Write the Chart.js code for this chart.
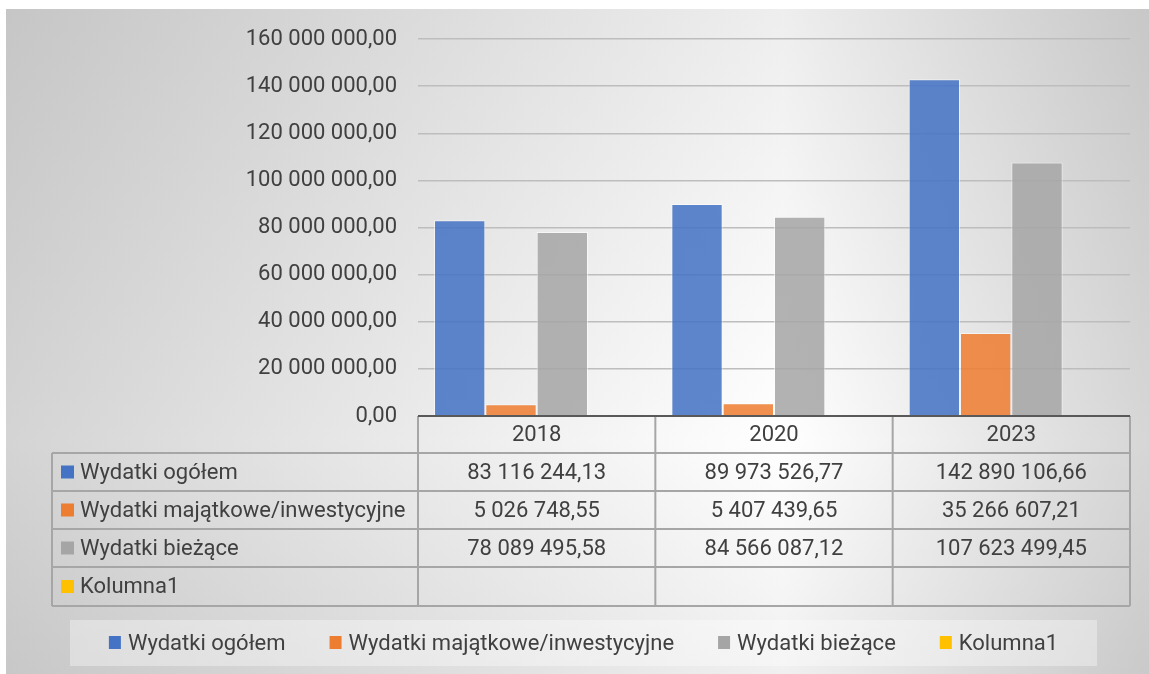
<!DOCTYPE html>
<html>
<head>
<meta charset="utf-8">
<script src="https://cdn.jsdelivr.net/npm/chart.js@4.4.1/dist/chart.umd.min.js"></script>
<style>
  body { margin: 0; background: #fff; }
  canvas { display: block; }
</style>
</head>
<body>
<canvas id="chart" width="1149" height="674"></canvas>
<script>
// dane z wykresu
const lata = ['2018', '2020', '2023'];
const seriaNazwy = ['Wydatki ogółem', 'Wydatki majątkowe/inwestycyjne', 'Wydatki bieżące', 'Kolumna1'];
const wydatkiOgolem = [83116244.13, 89973526.77, 142890106.66];
const wydatkiMajatkowe = [5026748.55, 5407439.65, 35266607.21];
const wydatkiBiezace = [78089495.58, 84566087.12, 107623499.45];
const kolumna1 = [null, null, null];
const kolory = ['#4472C4', '#ED7D31', '#A5A5A5', '#FFC000'];
const koloryBar = ['rgba(68,114,196,0.86)', 'rgba(237,125,49,0.86)', 'rgba(165,165,165,0.86)', 'rgba(255,192,0,0.86)'];

const FONT = '22px Roboto';
const TXT = '#404040';

function fmt(v) {
  const [i, d] = v.toFixed(2).split('.');
  return i.replace(/\B(?=(\d{3})+(?!\d))/g, ' ') + ',' + d;
}

const tlo = {
  id: 'tlo',
  beforeDraw(chart) {
    const ctx = chart.ctx;
    ctx.save();
    ctx.fillStyle = '#fff';
    ctx.fillRect(0, 0, chart.width, chart.height);
    const x0 = 6, y0 = 9, w = chart.width - x0, h = chart.height - y0;
    const gh = ctx.createLinearGradient(x0, 0, chart.width, 0);
    gh.addColorStop(0, '#d4d4d4');
    gh.addColorStop(0.68, '#ffffff');
    gh.addColorStop(1, '#d6d6d6');
    ctx.fillStyle = gh;
    ctx.fillRect(x0, y0, w, h);
    ctx.globalCompositeOperation = 'multiply';
    const gv = ctx.createLinearGradient(0, y0, 0, chart.height);
    gv.addColorStop(0, '#eeeeee');
    gv.addColorStop(0.65, '#ffffff');
    gv.addColorStop(1, '#f0f0f0');
    ctx.fillStyle = gv;
    ctx.fillRect(x0, y0, w, h);
    ctx.restore();
  }
};

const tabela = {
  id: 'tabela',
  afterDraw(chart) {
    const ctx = chart.ctx;
    const a = chart.chartArea;
    const xs = chart.scales.x;
    const kol = (a.right - a.left) / lata.length;
    const rzedy = [416, 453, 491, 529, 567, 606];
    const wartosci = [wydatkiOgolem, wydatkiMajatkowe, wydatkiBiezace, kolumna1];
    ctx.save();

    // linie tabeli
    ctx.strokeStyle = '#a6a6a6';
    ctx.lineWidth = 2;
    ctx.beginPath();
    for (let i = 0; i <= lata.length; i++) {
      const x = a.left + i * kol;
      ctx.moveTo(x, a.bottom);
      ctx.lineTo(x, rzedy[5]);
    }
    ctx.moveTo(52, rzedy[1]);
    ctx.lineTo(52, rzedy[5]);
    for (let r = 1; r < rzedy.length; r++) {
      ctx.moveTo(52, rzedy[r]);
      ctx.lineTo(a.right, rzedy[r]);
    }
    ctx.stroke();

    // os X
    ctx.strokeStyle = '#595959';
    ctx.lineWidth = 2;
    ctx.beginPath();
    ctx.moveTo(a.left, a.bottom);
    ctx.lineTo(a.right, a.bottom);
    ctx.stroke();

    ctx.font = FONT;
    ctx.fillStyle = TXT;
    ctx.textBaseline = 'middle';
    ctx.textAlign = 'center';
    lata.forEach((l, i) => {
      ctx.fillText(l, xs.getPixelForValue(i), (rzedy[0] + rzedy[1]) / 2 + 1);
    });
    seriaNazwy.forEach((n, s) => {
      const yc = (rzedy[s + 1] + rzedy[s + 2]) / 2;
      ctx.fillStyle = kolory[s];
      ctx.fillRect(61, yc - 6.5, 13, 13);
      ctx.fillStyle = TXT;
      ctx.textAlign = 'left';
      ctx.fillText(n, 80, yc + 1);
      ctx.textAlign = 'center';
      wartosci[s].forEach((v, i) => {
        if (v != null) ctx.fillText(fmt(v), xs.getPixelForValue(i), yc + 1);
      });
    });

    // legenda
    const lx = 70, ly = 620, lw = 1027, lh = 46;
    ctx.fillStyle = 'rgba(255,255,255,0.35)';
    ctx.fillRect(lx, ly, lw, lh);
    const gap = 44, sq = 12, tx = 19;
    const szer = seriaNazwy.map(n => ctx.measureText(n).width);
    let total = szer.reduce((p, c) => p + c + tx, 0) + gap * (seriaNazwy.length - 1);
    let x = lx + (lw - total) / 2;
    const yc = ly + lh / 2;
    ctx.textAlign = 'left';
    seriaNazwy.forEach((n, s) => {
      ctx.fillStyle = kolory[s];
      ctx.fillRect(x, yc - 7, sq, 13);
      ctx.fillStyle = TXT;
      ctx.fillText(n, x + tx, yc + 1);
      x += tx + szer[s] + gap;
    });
    ctx.restore();
  }
};

const ctx = document.getElementById('chart').getContext('2d');
Chart.defaults.font.family = 'Roboto';
new Chart(ctx, {
  type: 'bar',
  data: {
    labels: lata,
    datasets: [wydatkiOgolem, wydatkiMajatkowe, wydatkiBiezace, kolumna1].map((d, i) => ({
      label: seriaNazwy[i],
      data: d,
      backgroundColor: koloryBar[i],
      borderColor: 'rgba(255,255,255,0.55)',
      borderWidth: 1
    }))
  },
  options: {
    responsive: false,
    animation: false,
    layout: { padding: { left: 0, top: 39, right: 19, bottom: 258 } },
    categoryPercentage: 0.865,
    barPercentage: 1,
    plugins: {
      legend: { display: false },
      tooltip: { enabled: false }
    },
    scales: {
      x: { display: false },
      y: {
        min: 0,
        max: 160000000,
        afterFit(scale) { scale.width = 418; },
        border: { display: false },
        grid: { color: '#bdbdbd', lineWidth: 1.5, drawTicks: false },
        ticks: {
          stepSize: 20000000,
          padding: 21,
          color: TXT,
          font: { size: 22 },
          callback: v => fmt(v)
        }
      }
    }
  },
  plugins: [tlo, tabela]
});
</script>
</body>
</html>
